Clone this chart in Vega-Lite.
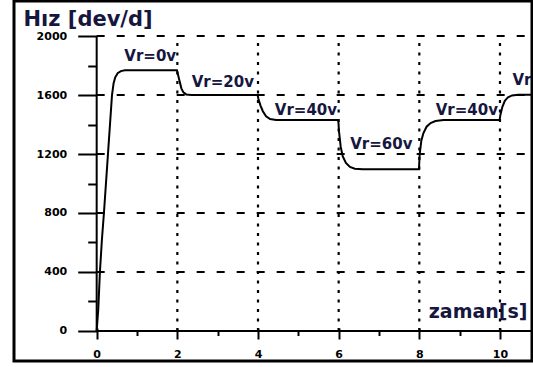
{
  "$schema": "https://vega.github.io/schema/vega-lite/v6.json",
  "width": 518,
  "height": 360,
  "autosize": {"type": "none"},
  "padding": {"left": 14, "top": 1, "right": 1, "bottom": 6},
  "background": "white",
  "config": {
    "view": {"stroke": "black", "strokeWidth": 3},
    "axis": {
      "domain": false,
      "grid": false,
      "tickColor": "black",
      "tickWidth": 2,
      "labelFont": "DejaVu Sans",
      "labelFontWeight": "bold",
      "labelFontSize": 11,
      "labelColor": "black",
      "titleFont": "DejaVu Sans",
      "titleFontWeight": "bold",
      "titleColor": "#16163f"
    }
  },
  "resolve": {"axis": {"x": "independent", "y": "independent"}},
  "layer": [
    {
      "description": "horizontal dashed grid with the labelled speed axis",
      "data": {"values": [{"v": 400}, {"v": 800}, {"v": 1200}, {"v": 1600}, {"v": 2000}]},
      "mark": {"type": "rule", "strokeDash": [8, 12], "strokeWidth": 2, "color": "black"},
      "encoding": {
        "y": {
          "field": "v", "type": "quantitative",
          "scale": {"domain": [-203.4, 2237.3], "nice": false, "zero": false},
          "axis": {
            "orient": "left", "offset": -82.7,
            "values": [0, 400, 800, 1200, 1600, 2000], "format": "d",
            "tickSize": 19, "labelPadding": 11,
            "title": "Hız [dev/d]", "titleAngle": 0, "titleAlign": "left",
            "titleBaseline": "alphabetic", "titleX": -73.7, "titleY": 24,
            "titleFontSize": 21
          }
        },
        "x": {
          "datum": 0, "type": "quantitative",
          "scale": {"domain": [-2.05, 10.794], "nice": false, "zero": false},
          "axis": null
        },
        "x2": {"datum": 10.794}
      }
    },
    {
      "description": "vertical dotted grid with the minor time ticks",
      "data": {"values": [{"t": 2}, {"t": 4}, {"t": 6}, {"t": 8}, {"t": 10}]},
      "mark": {"type": "rule", "strokeDash": [3, 6.5], "strokeWidth": 2.2, "color": "black"},
      "encoding": {
        "x": {
          "field": "t", "type": "quantitative",
          "scale": {"domain": [-2.05, 10.794], "nice": false, "zero": false},
          "axis": {
            "orient": "bottom", "offset": -30,
            "values": [1, 3, 5, 7, 9], "tickSize": 4.5,
            "labels": false, "title": null
          }
        },
        "y": {
          "datum": 0, "type": "quantitative",
          "scale": {"domain": [-203.4, 2237.3], "nice": false, "zero": false},
          "axis": null
        },
        "y2": {"datum": 2000}
      }
    },
    {
      "description": "vertical axis line",
      "data": {"values": [{}]},
      "mark": {"type": "rule", "strokeWidth": 2, "color": "black"},
      "encoding": {
        "x": {
          "datum": 0, "type": "quantitative",
          "scale": {"domain": [-2.05, 10.794], "nice": false, "zero": false},
          "axis": {
            "orient": "bottom", "offset": -30,
            "values": [0, 2, 4, 6, 8, 10], "tickSize": -3,
            "labels": false, "title": null
          }
        },
        "y": {
          "datum": 0, "type": "quantitative",
          "scale": {"domain": [-203.4, 2237.3], "nice": false, "zero": false},
          "axis": null
        },
        "y2": {"datum": 2000}
      }
    },
    {
      "description": "horizontal axis line with the minor speed ticks",
      "data": {"values": [{}]},
      "mark": {"type": "rule", "strokeWidth": 2, "color": "black"},
      "encoding": {
        "y": {
          "datum": 0, "type": "quantitative",
          "scale": {"domain": [-203.4, 2237.3], "nice": false, "zero": false},
          "axis": {
            "orient": "left", "offset": -82.7,
            "values": [200, 600, 1000, 1400, 1800], "tickSize": 9,
            "labels": false, "title": null
          }
        },
        "x": {
          "datum": 0, "type": "quantitative",
          "scale": {"domain": [-2.05, 10.794], "nice": false, "zero": false},
          "axis": null
        },
        "x2": {"datum": 10.794}
      }
    },
    {
      "description": "motor speed response",
      "data": {
        "values": [
          {"t": 0, "v": 0}, {"t": 0.04, "v": 150}, {"t": 0.08, "v": 400},
          {"t": 0.13, "v": 620}, {"t": 0.18, "v": 800}, {"t": 0.23, "v": 1000},
          {"t": 0.28, "v": 1200}, {"t": 0.33, "v": 1400}, {"t": 0.38, "v": 1600},
          {"t": 0.42, "v": 1680}, {"t": 0.46, "v": 1720}, {"t": 0.52, "v": 1748},
          {"t": 0.6, "v": 1762}, {"t": 0.7, "v": 1767}, {"t": 1.99, "v": 1767},
          {"t": 2.01, "v": 1745}, {"t": 2.05, "v": 1700}, {"t": 2.1, "v": 1645},
          {"t": 2.15, "v": 1618}, {"t": 2.22, "v": 1604}, {"t": 2.35, "v": 1600},
          {"t": 3.99, "v": 1600},
          {"t": 4.01, "v": 1575}, {"t": 4.06, "v": 1530}, {"t": 4.12, "v": 1490},
          {"t": 4.2, "v": 1455}, {"t": 4.3, "v": 1437}, {"t": 4.45, "v": 1431},
          {"t": 5.99, "v": 1431},
          {"t": 6.01, "v": 1350}, {"t": 6.05, "v": 1250}, {"t": 6.1, "v": 1185},
          {"t": 6.18, "v": 1140}, {"t": 6.28, "v": 1112}, {"t": 6.4, "v": 1100},
          {"t": 6.6, "v": 1097}, {"t": 7.99, "v": 1097},
          {"t": 8.01, "v": 1200}, {"t": 8.05, "v": 1290}, {"t": 8.1, "v": 1340},
          {"t": 8.18, "v": 1385}, {"t": 8.28, "v": 1410}, {"t": 8.4, "v": 1424},
          {"t": 8.6, "v": 1430}, {"t": 9.99, "v": 1430},
          {"t": 10.01, "v": 1465}, {"t": 10.06, "v": 1520}, {"t": 10.12, "v": 1560},
          {"t": 10.2, "v": 1585}, {"t": 10.3, "v": 1597}, {"t": 10.45, "v": 1601},
          {"t": 10.794, "v": 1601}
        ]
      },
      "mark": {"type": "line", "color": "black", "strokeWidth": 2, "clip": true},
      "encoding": {
        "x": {
          "field": "t", "type": "quantitative",
          "scale": {"domain": [-2.05, 10.794], "nice": false, "zero": false},
          "axis": {
            "orient": "bottom", "offset": -30,
            "values": [0, 2, 4, 6, 8, 10], "format": "d",
            "tickSize": 8, "labelPadding": 9,
            "title": "zaman[s]", "titleX": 513, "titleY": -14,
            "titleAlign": "right", "titleBaseline": "alphabetic",
            "titleFontSize": 19
          }
        },
        "y": {
          "field": "v", "type": "quantitative",
          "scale": {"domain": [-203.4, 2237.3], "nice": false, "zero": false},
          "axis": null
        }
      }
    },
    {
      "description": "rotor voltage labels for each step",
      "data": {
        "values": [
          {"t": 1.97, "v": 1831, "label": "Vr=0v"},
          {"t": 3.9, "v": 1654, "label": "Vr=20v"},
          {"t": 5.96, "v": 1464, "label": "Vr=40v"},
          {"t": 7.83, "v": 1234, "label": "Vr=60v"},
          {"t": 9.95, "v": 1464, "label": "Vr=40v"}
        ]
      },
      "mark": {
        "type": "text", "align": "right", "baseline": "alphabetic",
        "font": "DejaVu Sans", "fontWeight": "bold", "fontSize": 15,
        "color": "#16163f"
      },
      "encoding": {
        "x": {
          "field": "t", "type": "quantitative",
          "scale": {"domain": [-2.05, 10.794], "nice": false, "zero": false},
          "axis": null
        },
        "y": {
          "field": "v", "type": "quantitative",
          "scale": {"domain": [-203.4, 2237.3], "nice": false, "zero": false},
          "axis": null
        },
        "text": {"field": "label"}
      }
    },
    {
      "description": "last step label at the right edge",
      "data": {"values": [{"t": 10.31, "v": 1668, "label": "Vr"}]},
      "mark": {
        "type": "text", "align": "left", "baseline": "alphabetic",
        "font": "DejaVu Sans", "fontWeight": "bold", "fontSize": 15,
        "color": "#16163f"
      },
      "encoding": {
        "x": {
          "field": "t", "type": "quantitative",
          "scale": {"domain": [-2.05, 10.794], "nice": false, "zero": false},
          "axis": null
        },
        "y": {
          "field": "v", "type": "quantitative",
          "scale": {"domain": [-203.4, 2237.3], "nice": false, "zero": false},
          "axis": null
        },
        "text": {"field": "label"}
      }
    }
  ]
}
